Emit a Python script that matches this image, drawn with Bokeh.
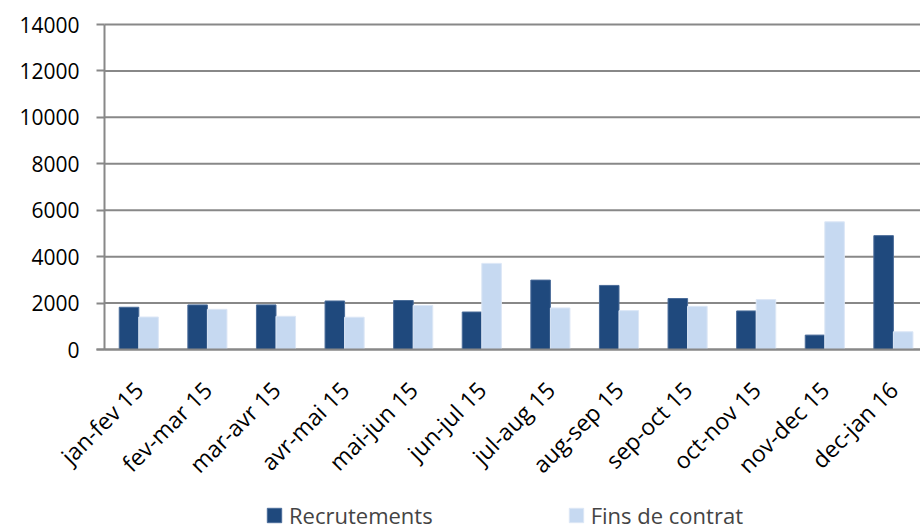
import numpy as np
from bokeh.plotting import figure
from bokeh.models import Range1d, FixedTicker, Legend, LegendItem
from bokeh.embed import file_html
from bokeh.resources import INLINE

categories = ["jan-fev 15", "fev-mar 15", "mar-avr 15", "avr-mai 15", "mai-jun 15",
              "jun-jul 15", "jul-aug 15", "aug-sep 15", "sep-oct 15", "oct-nov 15",
              "nov-dec 15", "dec-jan 16"]
recrutements = [1820, 1920, 1920, 2090, 2110, 1615, 2990, 2760, 2195, 1660, 620, 4905]
fins_de_contrat = [1400, 1730, 1430, 1390, 1900, 3710, 1790, 1675, 1860, 2150, 5500, 765]
y_ticks = [0, 2000, 4000, 6000, 8000, 10000, 12000, 14000]

FONT = "Open Sans"
DARK = "#1F497D"
LIGHT = "#C6D9F1"
GRID = "#888888"

idx = np.arange(len(categories))
bw = 0.285

W, H = 920, 530
axis_px = 104          # pixel x of the value axis
top_px, zero_px = 24, 349
pitch = 68.6           # pixels per category
y_max = 14000

x_start = -0.5 - axis_px / pitch
x_end = -0.5 + (W - axis_px) / pitch
ppu = (zero_px - top_px) / y_max
y_bottom = -(H - zero_px) / ppu
y_top = y_max + top_px / ppu

p = figure(width=W, height=H, output_backend="svg", toolbar_location=None,
           x_range=Range1d(x_start, x_end), y_range=Range1d(y_bottom, y_top),
           min_border_left=0, min_border_right=0, min_border_top=0, min_border_bottom=0)
p.outline_line_color = None
p.background_fill_color = "white"
p.xgrid.visible = False
p.ygrid.visible = False

# horizontal gridlines from the tick list
p.segment(x0=-0.5, x1=x_end, y0=y_ticks, y1=y_ticks, line_color=GRID, line_width=2)

r1 = p.vbar(x=idx - bw / 2, top=recrutements, width=bw, fill_color=DARK, line_color="#4A6C99", line_width=1)
r2 = p.vbar(x=idx + bw / 2, top=fins_de_contrat, width=bw, fill_color=LIGHT, line_color="#DCE7F6", line_width=1)

p.yaxis.ticker = FixedTicker(ticks=y_ticks)
p.yaxis.bounds = (0, y_max)
p.yaxis.fixed_location = -0.5
p.xaxis.ticker = FixedTicker(ticks=list(idx))
p.xaxis.major_label_overrides = {int(i): c for i, c in zip(idx, categories)}
p.xaxis.major_label_orientation = np.pi / 4
p.xaxis.fixed_location = 0
p.xaxis.bounds = (-0.5 - 8 / pitch, x_end)

for ax in (p.xaxis, p.yaxis):
    ax.axis_line_color = GRID
    ax.axis_line_width = 2
    ax.minor_tick_line_color = None
    ax.major_label_text_font = FONT
    ax.major_label_text_color = "black"
p.yaxis.major_label_text_font_size = "21px"
p.xaxis.major_label_text_font_size = "23px"
p.yaxis.major_tick_line_color = GRID
p.yaxis.major_tick_line_width = 2
p.yaxis.major_tick_out = 8
p.yaxis.major_tick_in = 0
p.yaxis.major_label_standoff = 17
p.xaxis.major_tick_line_color = None
p.xaxis.major_label_standoff = 30

legend = Legend(items=[LegendItem(label="Recrutements", renderers=[r1]),
                       LegendItem(label="Fins de contrat", renderers=[r2])],
                orientation="horizontal", location=(265, 0),
                label_text_font=FONT, label_text_font_size="22px",
                glyph_width=18, glyph_height=18, spacing=134, label_standoff=6,
                border_line_color=None, background_fill_alpha=0, margin=0, padding=1)
p.add_layout(legend, "center")

open("out.html", "w").write(file_html(p, INLINE))
